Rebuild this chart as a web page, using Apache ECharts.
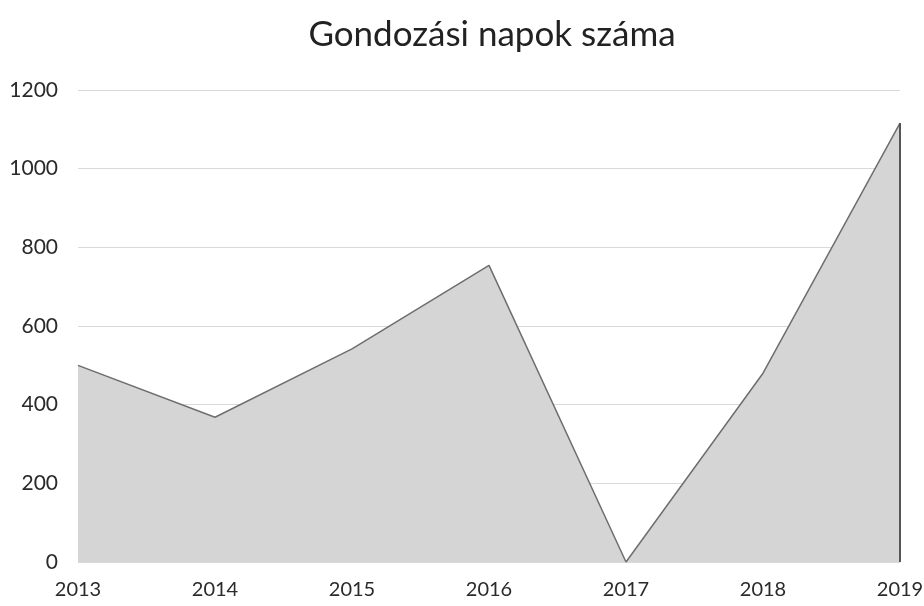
<!DOCTYPE html>
<html>
<head>
<meta charset="utf-8">
<script src="https://cdn.jsdelivr.net/npm/echarts@6/dist/echarts.min.js"></script>
<style>
  html, body { margin: 0; padding: 0; background: #fff; }
  #chart { width: 924px; height: 606px; }
</style>
</head>
<body>
<div id="chart"></div>
<script>
const years = ['2013', '2014', '2015', '2016', '2017', '2018', '2019']
const napok = [500, 368, 542, 754, 0, 480, 1116]
const yTicks = { min: 0, max: 1200, interval: 200 }

const myChart = echarts.init(document.getElementById('chart'))

const lastYear = years[years.length - 1]
const lastValue = napok[napok.length - 1]

const option = {
  backgroundColor: '#fff',
  title: {
    text: 'Gondozási napok száma',
    left: 487,
    top: 12,
    textAlign: 'center',
    textStyle: {
      fontFamily: 'Lato',
      fontSize: 35,
      fontWeight: 'normal',
      color: '#222'
    }
  },
  grid: {
    left: 78,
    right: 24,
    top: 90,
    bottom: 44,
    outerBoundsMode: 'none'
  },
  xAxis: {
    type: 'category',
    data: years,
    boundaryGap: false,
    axisLine: { show: false },
    axisTick: { show: false },
    axisLabel: {
      margin: 18,
      fontFamily: 'Lato',
      fontSize: 20,
      color: '#2a2a2a'
    }
  },
  yAxis: {
    type: 'value',
    min: yTicks.min,
    max: yTicks.max,
    interval: yTicks.interval,
    axisLine: { show: false },
    axisTick: { show: false },
    axisLabel: {
      margin: 20,
      fontFamily: 'Lato',
      fontSize: 21,
      color: '#2a2a2a',
      formatter: (v) => String(v)
    },
    splitLine: {
      lineStyle: { color: '#d9d9d9', width: 1 }
    }
  },
  series: [
    {
      name: 'Gondozási napok',
      type: 'line',
      data: napok,
      symbol: 'none',
      lineStyle: { color: '#6e6e6e', width: 1.5 },
      areaStyle: { color: '#d5d5d5', opacity: 1 },
      z: 3,
      // the dark right edge of the area
      markLine: {
        silent: true,
        symbol: 'none',
        label: { show: false },
        lineStyle: { color: '#555', width: 2, type: 'solid' },
        data: [[{ coord: [lastYear, 0] }, { coord: [lastYear, lastValue] }]]
      }
    }
  ]
}

myChart.setOption(option)
</script>
</body>
</html>
